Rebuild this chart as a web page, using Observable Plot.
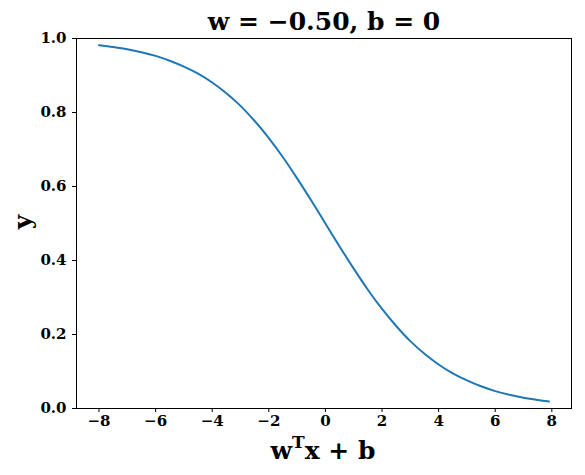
<!DOCTYPE html>
<html>
<head>
<meta charset="utf-8">
<script src="https://cdn.jsdelivr.net/npm/d3@7"></script>
<script src="https://cdn.jsdelivr.net/npm/@observablehq/plot@0.6"></script>
<style>
  html, body { margin: 0; padding: 0; background: #fff; }
  #chart svg { display: block; }
</style>
</head>
<body>
<div id="chart"></div>
<script>
const titleText = "w = −0.50, b = 0";
const xLabel = "x + b";
const yLabel = "y";
const xTicks = [-8, -6, -4, -2, 0, 2, 4, 6, 8];
const yTicks = [0, 0.2, 0.4, 0.6, 0.8, 1.0];
const xs = [-8, -7.5, -7, -6.5, -6, -5.5, -5, -4.5, -4, -3.5, -3, -2.5, -2, -1.5, -1, -0.5,
            0, 0.5, 1, 1.5, 2, 2.5, 3, 3.5, 4, 4.5, 5, 5.5, 6, 6.5, 7, 7.5, 7.9];
const ys = [0.982, 0.977, 0.971, 0.963, 0.953, 0.940, 0.924, 0.905, 0.881, 0.852, 0.818, 0.777,
            0.731, 0.679, 0.622, 0.562, 0.500, 0.438, 0.378, 0.321, 0.269, 0.223, 0.182, 0.148,
            0.119, 0.095, 0.076, 0.060, 0.047, 0.037, 0.029, 0.023, 0.019];

const data = xs.map((x, i) => ({x, y: ys[i]}));
const font = "'DejaVu Serif', 'Liberation Serif', serif";

const plot = Plot.plot({
  width: 585,
  height: 475,
  marginLeft: 76,
  marginRight: 14,
  marginTop: 38,
  marginBottom: 67,
  style: {fontFamily: font, fontWeight: "bold", fontSize: "15px", color: "#000", background: "#fff"},
  x: {domain: [-8.795, 8.695]},
  y: {domain: [0, 1]},
  marks: [
    Plot.frame({stroke: "#000", strokeWidth: 1}),
    Plot.axisX({ticks: xTicks, tickSize: 4, tickPadding: 3, label: null, fontSize: 15,
                fontFamily: font, fontWeight: "bold", tickFormat: d => d3.format("d")(d)}),
    Plot.axisY({ticks: yTicks, tickSize: 4, tickPadding: 6, label: null, fontSize: 15,
                fontFamily: font, fontWeight: "bold", tickFormat: d => d3.format(".1f")(d)}),
    Plot.line(data, {x: "x", y: "y", stroke: "#1f77b4", strokeWidth: 2, curve: "monotone-x"}),
    Plot.text([titleText], {frameAnchor: "top", lineAnchor: "bottom", dy: -9, text: d => d,
                            fontSize: 25, fontWeight: "bold", fontFamily: font})
  ]
});

const svg = d3.select(plot);
svg.append("text")
  .attr("x", 323).attr("y", 459)
  .attr("text-anchor", "middle")
  .attr("font-family", font).attr("font-weight", "bold").attr("font-size", 25)
  .call(t => {
    t.append("tspan").text("w");
    t.append("tspan").attr("dy", -11).attr("font-size", 17).text("T");
    t.append("tspan").attr("dy", 11).text(xLabel);
  });
svg.append("text")
  .attr("transform", "translate(31,222) rotate(-90)")
  .attr("text-anchor", "middle")
  .attr("font-family", font).attr("font-weight", "bold").attr("font-size", 25)
  .text(yLabel);

document.getElementById("chart").appendChild(plot);
</script>
</body>
</html>
